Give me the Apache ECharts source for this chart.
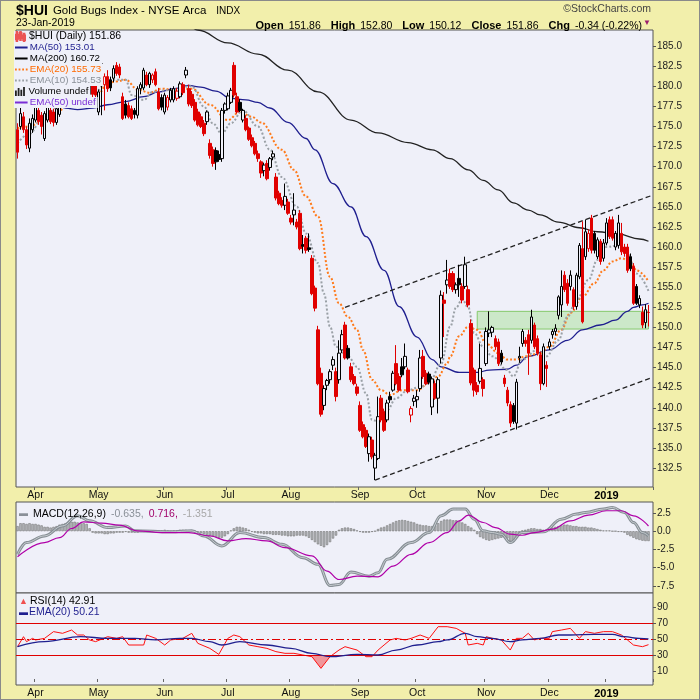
<!DOCTYPE html>
<html><head><meta charset="utf-8">
<script src="https://cdn.jsdelivr.net/npm/echarts@6/dist/echarts.min.js"></script>
<style>
html,body{margin:0;padding:0;background:#f2efab;}
#c{width:700px;height:700px;position:relative;}
#frame{position:absolute;left:0;top:0;width:698px;height:698px;border:1px solid #8a8a8a;pointer-events:none;}
</style>
</head><body>
<div id="c"></div><div id="frame"></div>
<script>
// ---------- DATA ----------
const startDay = '2018-03-22', endDay = '2019-01-23';
const holidays = ['2018-03-30','2018-05-28','2018-07-04','2018-09-03','2018-11-22','2018-12-05','2018-12-25','2019-01-01','2019-01-21'];
// [open, high, low, close] per trading day
const ohlc = [
[174.6,175.4,171.0,171.8],[175.0,177.6,174.6,176.6],[176.2,176.8,174.2,174.6],[174.6,175.0,172.2,172.7],[172.3,176.0,171.8,175.4],
[174.6,176.5,174.2,176.0],[175.8,178.0,175.5,177.5],[177.0,177.3,175.2,175.6],[176.4,176.8,174.0,175.0],[173.5,176.9,173.2,176.6],
[175.8,178.0,175.5,177.5],[177.0,177.4,175.3,175.6],[176.8,177.2,175.0,175.5],[175.5,177.5,175.2,177.2],[176.5,178.2,176.2,177.8],
[178.0,180.2,177.8,179.8],[179.8,181.5,179.2,181.0],[181.0,182.0,179.8,180.2],[180.2,181.8,179.5,181.5],[181.5,183.2,181.0,182.6],
[182.6,183.5,181.2,181.6],[181.6,182.4,179.8,180.3],[180.3,181.4,179.0,181.0],[181.0,181.6,178.6,179.0],[179.0,180.6,178.4,180.2],
[180.2,180.8,178.5,179.0],[180.2,180.5,178.4,178.9],[176.8,179.6,176.4,179.3],[180.2,183.7,176.4,182.8],[180.2,181.6,177.0,181.2],
[181.2,182.0,179.3,179.7],[180.8,181.2,179.4,179.8],[181.0,182.6,180.5,182.2],[182.6,183.0,181.3,181.6],[182.4,182.8,181.0,181.4],
[178.7,179.2,175.8,176.0],[177.8,178.3,176.0,176.4],[177.6,178.0,176.0,176.2],[177.2,177.6,175.8,176.0],[177.0,177.3,176.0,176.5],
[176.4,180.0,176.0,179.7],[179.7,180.5,179.0,180.2],[179.8,182.3,179.5,182.0],[181.4,181.8,180.0,180.2],[180.2,181.8,179.8,181.6],
[180.8,181.6,180.4,181.4],[181.8,182.2,180.0,180.2],[179.3,179.8,177.0,177.2],[178.6,179.0,177.0,177.4],[176.8,179.2,176.5,178.9],
[177.4,178.9,177.0,178.6],[178.3,179.8,178.0,179.5],[178.3,180.0,178.0,179.7],[178.5,179.8,178.2,179.4],[178.7,180.6,178.5,180.3],
[180.2,180.5,178.9,179.2],[181.4,182.4,181.0,182.0],[179.7,180.2,177.5,177.8],[179.0,179.4,177.3,177.6],[178.0,178.4,175.6,175.8],
[176.8,177.2,175.0,175.2],[176.2,176.6,174.8,175.0],[175.4,175.8,173.8,174.1],[175.6,177.0,175.2,176.8],[172.9,173.4,171.0,171.4],
[172.1,172.5,170.0,170.4],[172.0,172.4,169.6,170.6],[171.5,172.0,170.6,170.9],[171.0,177.3,170.6,177.0],[177.0,178.0,176.6,177.8],
[177.2,179.2,177.0,178.8],[178.0,179.8,177.8,179.5],[182.6,183.0,178.6,178.9],[178.7,179.2,176.6,176.8],[178.0,178.4,176.8,177.0],
[175.8,177.2,175.5,177.0],[176.0,176.4,174.4,174.6],[174.8,175.0,173.2,173.4],[173.6,174.0,172.4,172.6],[172.9,173.2,171.4,171.6],
[171.6,172.0,170.6,171.0],[170.6,170.8,168.6,169.2],[169.5,170.5,168.8,170.2],[170.4,170.8,168.3,168.5],[169.9,171.2,169.5,171.0],
[171.2,172.0,170.8,171.6],[168.7,169.2,165.8,166.1],[166.7,167.0,165.2,165.4],[165.8,166.2,164.9,165.2],[165.2,167.9,164.6,166.3],
[165.6,166.0,164.0,164.2],[163.6,164.0,162.8,163.1],[164.0,166.7,162.7,164.6],[163.1,163.5,162.2,162.5],[164.2,164.6,159.6,159.8],
[160.3,161.5,159.2,160.1],[161.1,161.4,159.2,159.6],[159.9,161.7,159.4,159.7],[158.6,159.0,154.0,154.2],[154.9,155.2,152.0,152.4],
[149.7,150.2,142.8,143.0],[144.3,145.0,138.9,139.2],[140.3,142.8,139.7,142.4],[142.8,143.6,142.2,143.4],[143.5,144.8,143.0,144.5],
[145.3,146.4,144.7,146.0],[144.5,145.0,140.8,141.4],[143.5,148.4,143.0,146.8],[147.2,149.7,146.8,149.1],[150.3,150.7,146.0,146.2],
[147.4,147.8,146.0,146.2],[145.1,145.6,143.2,143.5],[143.9,144.2,142.8,143.0],[142.6,143.0,141.5,141.8],[140.3,140.8,137.0,137.2],
[137.9,138.3,136.2,136.4],[137.2,137.6,135.0,135.2],[134.3,136.8,133.3,136.4],[136.0,136.4,133.6,133.9],[132.5,134.4,131.0,134.1],
[133.7,141.4,133.5,138.9],[141.2,141.6,138.2,138.5],[139.5,139.9,137.0,137.2],[138.5,141.0,138.2,140.6],[141.4,142.0,140.6,141.0],
[142.2,144.6,142.0,144.3],[145.5,147.8,142.8,143.0],[143.9,144.3,142.0,142.2],[145.1,146.2,143.8,144.1],[145.1,148.0,144.8,146.4],
[144.7,145.0,141.8,142.0],[139.1,140.2,138.2,139.9],[140.8,141.6,140.2,141.2],[141.0,142.2,140.0,141.4],[142.4,147.2,142.0,146.2],
[146.4,147.2,143.6,143.9],[144.3,144.7,142.8,143.0],[144.2,144.5,142.9,143.2],[140.1,143.9,139.1,143.6],[143.0,143.4,141.0,141.2],
[141.2,143.8,139.3,143.5],[146.2,154.6,145.5,154.0],[153.4,154.4,148.8,153.0],[155.3,158.4,154.2,155.9],[156.7,157.3,154.8,155.1],
[156.7,157.0,154.4,154.7],[154.7,155.6,154.2,155.3],[156.1,157.8,153.8,155.3],[155.1,155.5,153.0,153.4],[155.1,158.8,154.8,157.8],
[154.7,155.2,152.5,152.8],[150.5,151.0,142.8,143.1],[144.7,145.0,141.4,142.2],[142.8,143.2,141.6,142.0],[143.3,148.0,143.0,144.9],
[143.5,143.8,141.4,142.4],[145.5,150.0,145.2,149.5],[149.3,152.0,148.8,149.7],[149.4,150.2,148.8,150.0],[148.6,149.0,147.2,147.6],
[148.2,148.6,145.2,145.5],[146.8,147.2,145.4,145.7],[143.7,144.1,142.6,143.0],[142.2,142.6,140.2,140.6],[140.4,140.8,137.6,138.1],
[140.3,140.6,138.0,138.3],[138.1,143.6,137.3,143.2],[146.2,147.6,145.6,146.4],[148.0,149.8,147.6,149.5],[148.4,148.8,147.6,148.0],
[149.1,149.7,144.1,146.8],[148.4,152.2,148.0,151.3],[150.3,150.6,147.3,147.6],[148.6,149.0,146.5,146.8],[146.6,147.0,142.2,143.0],
[143.0,148.0,142.8,147.6],[145.3,145.8,142.6,144.9],[147.6,148.6,147.2,148.2],[149.1,149.8,148.6,149.5],[149.5,150.4,149.0,149.9],
[151.5,154.0,151.0,153.8],[152.8,157.1,151.3,155.1],[156.5,157.0,154.4,154.7],[155.5,156.0,152.7,153.0],[155.1,157.1,154.6,156.5],
[154.7,155.0,152.2,152.6],[152.6,156.8,152.2,156.5],[156.3,160.5,156.0,160.2],[159.8,163.2,150.5,150.7],[158.8,163.4,158.4,161.9],
[159.8,162.2,159.4,161.7],[163.6,164.0,159.2,159.6],[161.7,162.0,159.2,159.6],[158.8,161.2,158.5,160.9],[160.7,161.0,157.8,158.2],
[158.6,161.0,158.2,160.5],[160.5,163.6,160.2,163.0],[163.4,163.8,161.0,161.3],[163.4,163.8,160.8,161.1],[160.0,162.0,159.6,161.7],
[160.2,164.0,159.8,163.0],[161.7,163.0,159.0,159.4],[160.0,160.4,158.8,159.2],[160.0,160.4,156.8,157.1],[158.8,159.2,157.0,157.3],
[157.6,158.0,152.8,153.0],[155.1,155.4,152.8,153.0],[152.8,154.0,152.4,153.6],[151.9,152.6,149.9,150.3],[150.6,152.9,149.9,152.2],
[151.86,152.80,150.12,151.86]
];
// indicator readings [dayIndex, value]
const ma50Pts = [[13,177.7],[16,177.3],[20,177.1],[25,177.3],[30,177.7],[36,178.1],[42,178.7],[47,179.3],[52,179.7],[57,180.1],[61,179.9],[66,179.4],[71,178.5],[76,178.3],[80,178.0],[84,177.3],[90,175.5],[96,173.5],[99,172.1],[105,167.9],[111,165.0],[116,161.3],[122,157.1],[127,152.6],[133,148.8],[138,146.0],[141,145.1],[147,144.4],[153,144.4],[157,144.7],[163,144.8],[166,145.3],[170,146.4],[177,147.2],[183,148.4],[188,149.7],[194,150.3],[199,150.9],[203,152.0],[205,152.5],[208,152.8],[210,153.01]];
const ma200Pts = [[58,187.4],[60,187.0],[70,185.4],[80,184.0],[90,182.0],[100,179.3],[111,175.8],[120,174.2],[130,173.0],[138,172.1],[144,171.0],[150,169.6],[155,168.3],[160,167.1],[165,165.5],[170,164.6],[174,164.0],[180,163.1],[187,162.4],[193,161.9],[200,161.6],[207,161.0],[210,160.72]];
const ema20Pts = [[0,174.8],[4,175.0],[8,175.6],[12,176.4],[14,177.0],[18,178.8],[22,179.6],[25,179.7],[27,179.1],[30,180.4],[33,180.6],[36,180.8],[40,179.6],[44,179.2],[48,179.7],[53,179.5],[58,179.7],[64,177.7],[70,175.8],[74,176.8],[78,176.2],[81,175.5],[88,172.1],[92,169.6],[96,166.3],[100,163.8],[104,156.3],[107,153.0],[110,151.3],[113,149.7],[115,147.2],[118,143.5],[121,142.2],[124,141.6],[128,142.2],[133,142.2],[137,143.1],[140,143.9],[143,145.5],[144,146.4],[147,148.9],[150,150.1],[153,149.7],[156,148.0],[160,146.8],[163,146.0],[166,146.0],[169,146.4],[174,146.8],[177,147.6],[181,149.7],[184,151.8],[188,153.8],[192,155.5],[195,157.1],[198,158.2],[201,158.6],[204,158.2],[206,157.1],[210,155.73]];
const ema10Pts = [[0,172.9],[4,174.1],[8,175.8],[14,177.5],[18,179.5],[22,180.8],[26,179.3],[30,180.8],[33,180.8],[36,180.8],[38,178.9],[42,178.3],[45,179.3],[50,179.5],[58,180.0],[62,177.5],[65,175.4],[68,174.1],[71,175.4],[75,177.0],[80,175.0],[84,172.1],[88,168.7],[93,165.0],[96,161.7],[100,158.0],[102,154.2],[104,150.1],[106,147.6],[110,146.4],[113,145.1],[116,141.8],[118,138.5],[120,138.3],[123,139.7],[126,141.2],[130,142.2],[134,142.6],[137,143.1],[141,145.5],[144,150.1],[146,152.5],[148,153.5],[150,152.5],[152,149.3],[155,147.6],[158,146.4],[163,144.7],[165,143.9],[168,146.0],[173,147.2],[176,146.4],[180,148.4],[183,151.3],[186,153.4],[190,155.9],[193,158.4],[196,160.0],[200,160.2],[203,159.2],[206,156.7],[210,154.53]];
const upperChannel = [[109,152.5],[211,166.4]];
const lowerChannel = [[119,131.0],[211,143.75]];
const supportZone = [[153,152.0],[210,149.8]];
const macdPts = [[0,-3.17],[3,-1.56],[9,-0.64],[15,0.73],[20,2.11],[24,1.42],[30,0.5],[36,0.73],[39,0.05],[51,-0.09],[58,0.05],[62,-0.64],[68,-2.02],[74,-0.18],[82,-0.87],[88,-1.79],[95,-3.62],[100,-4.54],[104,-7.43],[107,-7.29],[111,-5.6],[117,-6.15],[120,-5.69],[123,-3.85],[131,-1.56],[137,-0.18],[141,2.11],[145,3.03],[149,3.03],[152,1.65],[155,0.05],[158,-0.18],[161,-0.41],[164,-1.56],[168,-0.18],[175,-0.09],[181,1.65],[186,2.34],[189,2.57],[195,3.03],[198,3.26],[202,2.57],[205,1.19],[208,-0.18],[210,-0.635]];
const signalPts = [[0,-3.49],[9,-1.56],[14,-0.87],[18,0.37],[22,1.28],[28,1.1],[34,0.83],[40,0.05],[48,-0.18],[57,-0.18],[64,-0.64],[70,-1.33],[76,-1.01],[83,-1.33],[89,-2.25],[98,-3.39],[103,-5.46],[107,-6.61],[113,-6.15],[120,-6.24],[125,-4.77],[131,-3.17],[137,-1.56],[143,-0.18],[147,1.42],[150,2.2],[155,1.19],[159,0.5],[164,-0.41],[168,-0.55],[172,-0.18],[178,0.28],[184,1.42],[190,2.2],[196,2.8],[201,2.8],[205,2.11],[210,0.716]];
const macdHist = [
0.7,1.1,1.1,1.0,1.1,1.0,1.0,0.9,0.8,0.6,
0.6,0.5,0.6,0.7,0.9,1.0,1.1,1.2,1.3,1.3,
1.2,1.1,1.1,1.0,0.4,-0.2,-0.3,-0.3,-0.3,-0.4,
-0.4,-0.3,-0.3,-0.2,-0.2,-0.2,-0.1,-0.2,-0.2,-0.2,
-0.2,-0.1,-0.1,-0.1,0.0,0.0,0.1,0.1,0.1,0.2,
0.1,0.0,0.1,0.1,0.2,0.2,0.2,0.1,0.1,0.0,
-0.1,-0.3,-0.4,-0.5,-0.6,-0.7,-0.8,-0.9,-0.9,-0.7,
-0.4,0.1,0.4,0.6,0.6,0.5,0.4,0.2,-0.1,-0.2,
-0.3,-0.3,-0.4,-0.4,-0.4,-0.5,-0.5,-0.5,-0.6,-0.6,
-0.7,-0.7,-0.7,-0.6,-0.6,-0.6,-0.7,-0.9,-1.2,-1.5,
-1.8,-2.0,-2.2,-1.9,-1.5,-1.0,-0.6,0.2,0.4,0.5,
0.5,0.4,0.3,0.1,-0.1,-0.2,-0.2,-0.2,-0.1,0.0,
0.3,0.5,0.6,0.8,1.0,1.2,1.4,1.5,1.55,1.5,
1.4,1.3,1.2,1.0,0.9,0.8,0.8,0.7,0.7,0.8,
1.1,1.4,1.6,1.6,1.6,1.5,1.5,1.4,1.2,1.0,
0.7,0.5,0.2,-0.4,-0.8,-1.0,-1.2,-1.3,-1.2,-1.1,
-1.0,-0.9,-0.8,-1.0,-1.4,-1.5,-0.9,-0.3,0.1,0.2,
0.3,0.4,0.4,0.3,0.3,0.2,0.2,0.3,0.5,0.6,
0.7,0.8,0.9,0.9,0.8,0.7,0.7,0.6,0.6,0.6,
0.5,0.5,0.4,0.3,0.2,0.1,0.1,0.1,0.0,0.0,
-0.1,-0.1,-0.2,-0.5,-0.7,-0.9,-1.1,-1.2,-1.3,-1.35,
-1.351];
const rsiPts = [[0,40.4],[2,52.9],[3,46.7],[5,50.8],[6,48.8],[9,50.8],[12,59.2],[15,57.1],[18,61.2],[20,55],[22,55],[24,48.8],[26,46.7],[30,52.9],[33,50.8],[35,52.9],[37,42.5],[42,42.5],[43,55],[46,50.8],[49,42.5],[51,48.8],[55,50.8],[58,57.1],[60,44.6],[64,38.3],[67,30.8],[70,50.8],[72,55],[74,52.9],[77,42.5],[80,40.4],[83,38.3],[86,34.2],[89,32.1],[92,32.1],[95,30],[98,27.9],[101,13.3],[104,27.9],[107,36.2],[109,40.4],[111,38.3],[113,36.2],[116,27.9],[118,27.9],[120,36.2],[122,42.5],[124,48.8],[126,50.8],[129,48.8],[131,50.8],[134,55],[137,50.8],[140,65.4],[143,65.4],[146,63.3],[149,57.1],[150,42.5],[153,44.6],[155,42.5],[156,52.9],[158,50.8],[161,48.8],[164,36.2],[166,50.8],[168,50.8],[170,57.1],[172,48.8],[174,50.8],[177,50.8],[178,59.2],[181,61.2],[184,63.3],[187,50.8],[189,59.2],[192,57.1],[195,59.2],[198,59.2],[201,55],[203,48.8],[205,42.5],[208,40.4],[210,42.91]];
const rsiEmaPts = [[0,40.4],[9,46.7],[21,52.9],[30,50.8],[39,50.8],[46,48.8],[54,50.8],[58,50.8],[64,46.7],[68,42.5],[74,46.7],[83,42.5],[91,38.3],[98,32.1],[104,27.9],[113,30.8],[120,30],[126,36.2],[133,42.5],[140,46.7],[143,48.8],[149,57.1],[153,52.9],[158,50.8],[164,46.7],[168,48.8],[174,50.8],[180,55],[184,55],[192,55.8],[198,55.8],[202,52.9],[207,50.8],[210,50.21]];
const oversoldPts = [[95,30],[98,27.9],[101,13.3],[104,27.9]];
const priceTicks = [132.5,135,137.5,140,142.5,145,147.5,150,152.5,155,157.5,160,162.5,165,167.5,170,172.5,175,177.5,180,182.5,185];
const macdTicks = [2.5,0,-2.5,-5,-7.5];
const rsiTicks = [90,70,50,30,10];
const rsiLevels = [70,50,30];
const monthNames = ['Jan','Feb','Mar','Apr','May','Jun','Jul','Aug','Sep','Oct','Nov','Dec'];

// ---------- BUILD ----------
const dates = [];
for (let d = new Date(startDay+'T00:00:00Z'); d <= new Date(endDay+'T00:00:00Z'); d.setUTCDate(d.getUTCDate()+1)) {
  const w = d.getUTCDay(), s = d.toISOString().slice(0,10);
  if (w === 0 || w === 6 || holidays.includes(s)) continue;
  dates.push(s);
}
const cats = dates.concat(['']);
const monthStart = new Set();
dates.forEach((s,i)=>{ if (i>0 && s.slice(5,7)!==dates[i-1].slice(5,7)) monthStart.add(i); });

const RED = '#e00000', BLK = '#000', PLOT = '#eff0f9';
const FONT = '"Liberation Sans", Arial, sans-serif';

const candleData = ohlc.map((r,i)=>{
  const [o,h,l,c] = r;
  const prev = i ? ohlc[i-1][3] : Infinity;
  const stroke = c < prev ? RED : BLK;
  const fill = c < o ? stroke : PLOT;
  return {value:[o,c,l,h], itemStyle:{color:fill,color0:fill,borderColor:stroke,borderColor0:stroke,borderColorDoji:stroke,borderWidth:1}};
});

const gridL = 16, gridW = 637;
const grids = [
  {left:gridL, width:gridW, top:30, height:457},
  {left:gridL, width:gridW, top:502, height:91},
  {left:gridL, width:gridW, top:593, height:92}
].map(g=>Object.assign(g,{show:true, backgroundColor:PLOT, borderColor:'#555', borderWidth:1}));

function xAx(idx, showLabels){
  return {type:'category', gridIndex:idx, data:cats, boundaryGap:true,
    axisLine:{show:false},
    axisTick:{show:showLabels, interval:(i)=>monthStart.has(i), length:3, lineStyle:{color:'#666'}},
    axisLabel:{show:showLabels, interval:(i)=>monthStart.has(i), margin:3, fontSize:10.5, fontFamily:FONT, color:'#111',
      formatter:(v)=>{ if(!v) return ''; const m=+v.slice(5,7); return m===1 ? '{y|'+v.slice(0,4)+'}' : monthNames[m-1]; },
      rich:{y:{fontWeight:'bold', fontSize:11, fontFamily:FONT, color:'#000'}}},
    splitLine:{show:false}};
}
function yAx(idx, min, max, ticks, fmt){
  return {type:'value', gridIndex:idx, position:'right', min, max, scale:true,
    axisLine:{show:false},
    axisTick:{show:true, length:3, customValues:ticks, lineStyle:{color:'#555'}},
    axisLabel:{customValues:ticks, formatter:fmt, fontSize:10, fontFamily:FONT, color:'#222', margin:4},
    splitLine:{show:false}};
}

// legend icons: tiny corner specks keep the bounding box so the bar stays thin
const PAD = 'M0,0h0.01v0.01h-0.01z M0,9.99h0.01v0.01h-0.01z M13.99,0h0.01v0.01h-0.01z ';
const solidIcon = 'path://' + PAD + 'M0,4h14v2.2h-14z';
const dotIcon = 'path://' + PAD + 'M0,4h2v2h-2z M4,4h2v2h-2z M8,4h2v2h-2z M12,4h2v2h-2z';
const legendItems = [
  {name:'$HUI (Daily) 151.86', icon:'path://M1,3h2v5h-2z M1.7,0h0.6v10h-0.6z M5,1h2v6h-2z M5.7,0h0.6v9h-0.6z M9,4h2v5h-2z M9.7,2h0.6v8h-0.6z', itemStyle:{color:'#000'}, textStyle:{color:'#000'}},
  {name:'MA(50) 153.01', icon:solidIcon, itemStyle:{color:'#1f1f8f'}, textStyle:{color:'#1f1f8f'}},
  {name:'MA(200) 160.72', icon:solidIcon, itemStyle:{color:'#000'}, textStyle:{color:'#000'}},
  {name:'EMA(20) 155.73', icon:dotIcon, itemStyle:{color:'#ff7a1a'}, textStyle:{color:'#ff6a00'}},
  {name:'EMA(10) 154.53', icon:dotIcon, itemStyle:{color:'#9aa0a6'}, textStyle:{color:'#8a9098'}},
  {name:'Volume undef', icon:'path://M0,4h2v6h-2z M3,1h2v9h-2z M6,3h2v7h-2z M9,0h2v10h-2z', itemStyle:{color:'#222'}, textStyle:{color:'#000'}},
  {name:'EMA(50) undef', icon:solidIcon, itemStyle:{color:'#7b2ed6'}, textStyle:{color:'#7b2ed6'}}
];
// one legend box per row, so each row's background is only as wide as its text
const legends = legendItems.map((it,k)=>({
  orient:'vertical', left:14, top:31 + k*11, z:20, itemGap:0, itemWidth:13, itemHeight:9, padding:[0,2,0,1],
  backgroundColor:PLOT, selectedMode:false, data:[it],
  textStyle:{fontSize:k===0?10.5:9.8, fontFamily:FONT, lineHeight:11, padding:[0,0,0,-3]}
}));

const option = {
  animation:false,
  backgroundColor:'transparent',
  title:[
    {left:16, top:2, padding:0, text:'{a|$HUI} {b|Gold Bugs Index - NYSE Arca}  {c|INDX}',
      textStyle:{rich:{a:{fontFamily:FONT,fontWeight:'bold',fontSize:14,color:'#000'},b:{fontFamily:FONT,fontWeight:'normal',fontSize:11.5,color:'#000'},c:{fontFamily:FONT,fontWeight:'normal',fontSize:10,color:'#000'}}}},
    {left:16, top:18, padding:0, text:'23-Jan-2019', textStyle:{fontFamily:FONT,fontSize:10.5,fontWeight:'normal',color:'#000'}},
    {right:49, top:4, padding:0, text:'©StockCharts.com', textStyle:{fontFamily:FONT,fontSize:10.5,fontWeight:'normal',color:'#444'}},
    {right:58, top:17, padding:0, text:'{k|Open} {v|151.86}  {k|High} {v|152.80}  {k|Low} {v|150.12}  {k|Close} {v|151.86}  {k|Chg} {v|-0.34 (-0.22%)}',
      textStyle:{rich:{k:{fontFamily:FONT,fontWeight:'bold',fontSize:11,color:'#000'},v:{fontFamily:FONT,fontWeight:'normal',fontSize:10.5,color:'#000'}}}},
    {right:49, top:19, padding:0, text:'▼', textStyle:{fontSize:8,color:'#9b1f6e',fontWeight:'normal'}},
    {left:19, top:505, padding:0, text:'{i|▬} {a|MACD(12,26,9)} {b|-0.635,} {c|0.716,} {d|-1.351}',
      textStyle:{rich:{i:{color:'#8a9098',fontSize:9},a:{fontFamily:FONT,fontWeight:'normal',fontSize:10.5,color:'#000'},b:{fontFamily:FONT,fontWeight:'normal',fontSize:10.5,color:'#8a9098'},c:{fontFamily:FONT,fontWeight:'normal',fontSize:10.5,color:'#a0006a'},d:{fontFamily:FONT,fontWeight:'normal',fontSize:10.5,color:'#a8a8a8'}}}},
    {left:19, top:596, padding:0, text:'{i|▲}{a|RSI(14) 42.91}',
      textStyle:{rich:{i:{color:'#f05050',fontSize:9,padding:[0,2,0,0]},a:{fontFamily:FONT,fontWeight:'normal',fontSize:10.5,color:'#000'}}}},
    {left:19, top:607, padding:0, text:'{i|▬}{a|EMA(20) 50.21}',
      textStyle:{rich:{i:{color:'#1f1f8f',fontSize:9,padding:[0,1,0,0]},a:{fontFamily:FONT,fontWeight:'normal',fontSize:10.5,color:'#1f1f8f'}}}}
  ],
  legend:legends,
  grid:grids,
  xAxis:[xAx(0,true), xAx(1,false), xAx(2,true)],
  yAxis:[
    yAx(0,130.15,187.0,priceTicks,(v)=>v.toFixed(1)),
    yAx(1,-8.46,4.0,macdTicks,(v)=>v.toFixed(1)),
    yAx(2,-7.5,107.5,rsiTicks,(v)=>String(v))
  ],
  series:[
    {name:'$HUI (Daily) 151.86', type:'candlestick', xAxisIndex:0, yAxisIndex:0, barWidth:3, data:candleData, z:5,
      markArea:{silent:true, itemStyle:{color:'rgba(130,215,100,0.32)', borderColor:'#86c96c', borderWidth:1},
        data:[[{coord:supportZone[0]},{coord:supportZone[1]}]]},
      markLine:{silent:true, symbol:'none', label:{show:false}, lineStyle:{color:'#222', type:[5,3], width:1.3},
        data:[[{coord:upperChannel[0]},{coord:upperChannel[1]}],[{coord:lowerChannel[0]},{coord:lowerChannel[1]}]]}},
    {name:'MA(50) 153.01', type:'line', xAxisIndex:0, yAxisIndex:0, data:ma50Pts, smooth:0.4, smoothMonotone:'x', symbol:'none', lineStyle:{color:'#1f1f8f', width:1.3}, z:4},
    {name:'MA(200) 160.72', type:'line', xAxisIndex:0, yAxisIndex:0, data:ma200Pts, smooth:0.4, smoothMonotone:'x', symbol:'none', lineStyle:{color:'#222', width:1.3}, z:4},
    {name:'EMA(20) 155.73', type:'line', xAxisIndex:0, yAxisIndex:0, data:ema20Pts, smooth:0.4, smoothMonotone:'x', symbol:'none', lineStyle:{color:'#ff7a1a', width:2, type:[2,2]}, z:4},
    {name:'EMA(10) 154.53', type:'line', xAxisIndex:0, yAxisIndex:0, data:ema10Pts, smooth:0.4, smoothMonotone:'x', symbol:'none', lineStyle:{color:'#9aa0a6', width:2, type:[2,2]}, z:4},
    {name:'Volume undef', type:'bar', xAxisIndex:0, yAxisIndex:0, data:[], itemStyle:{color:'#222'}},
    {name:'EMA(50) undef', type:'line', xAxisIndex:0, yAxisIndex:0, data:[], symbol:'none', lineStyle:{color:'#7b2ed6', width:2}},
    // MACD
    {name:'hist', type:'bar', xAxisIndex:1, yAxisIndex:1, data:macdHist, barWidth:2.4, itemStyle:{color:'#b4b7bb', borderColor:'#777', borderWidth:0.6}, z:2},
    {name:'macd', type:'line', xAxisIndex:1, yAxisIndex:1, data:macdPts, smooth:0.4, smoothMonotone:'x', symbol:'none', lineStyle:{color:'#868e94', width:3}, z:3},
    {name:'macdCore', type:'line', xAxisIndex:1, yAxisIndex:1, data:macdPts, smooth:0.4, smoothMonotone:'x', symbol:'none', lineStyle:{color:'#d6dade', width:0.8}, z:3},
    {name:'signal', type:'line', xAxisIndex:1, yAxisIndex:1, data:signalPts, smooth:0.4, smoothMonotone:'x', symbol:'none', lineStyle:{color:'#b000a8', width:1.2}, z:4},
    // RSI
    {name:'oversold', type:'line', xAxisIndex:2, yAxisIndex:2, data:oversoldPts, symbol:'none', lineStyle:{width:0}, areaStyle:{origin:30, color:'rgba(240,80,80,0.8)'}, z:2},
    {name:'rsi', type:'line', xAxisIndex:2, yAxisIndex:2, data:rsiPts, symbol:'none', lineStyle:{color:'#ff1010', width:1}, z:4,
      markLine:{silent:true, symbol:'none', label:{show:false},
        data:[{yAxis:rsiLevels[0], lineStyle:{color:'#e00000', width:1.2, type:'solid'}},
              {yAxis:rsiLevels[1], lineStyle:{color:'#e00000', width:1, type:[8,3,2,3]}},
              {yAxis:rsiLevels[2], lineStyle:{color:'#e00000', width:1.2, type:'solid'}}]}},
    {name:'rsiEma', type:'line', xAxisIndex:2, yAxisIndex:2, data:rsiEmaPts, smooth:0.4, smoothMonotone:'x', symbol:'none', lineStyle:{color:'#1f1f8f', width:1.3}, z:5}
  ]
};
const chart = echarts.init(document.getElementById('c'), null, {renderer:'canvas', width:700, height:700});
chart.setOption(option);
</script>
</body></html>
